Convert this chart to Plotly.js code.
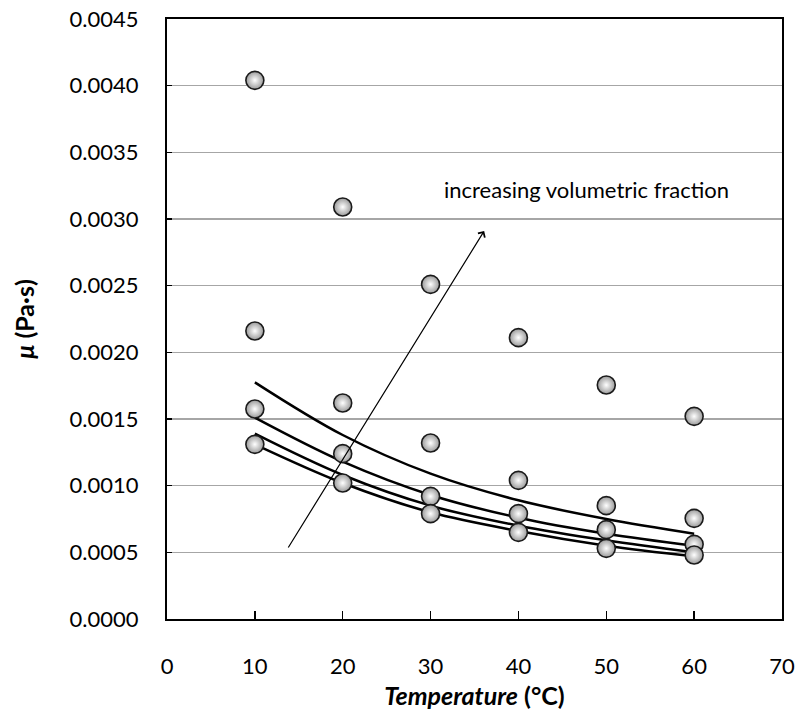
<!DOCTYPE html>
<html>
<head>
<meta charset="utf-8">
<script src="https://cdn.plot.ly/plotly-3.0.1.min.js"></script>
<style>
  html, body { margin: 0; padding: 0; background: #ffffff; }
  #chart { width: 798px; height: 727px; }
</style>
</head>
<body>
<div id="chart"></div>
<script>
// Temperature (°C)
var temperature = [10, 20, 30, 40, 50, 60];

// Measured viscosity (Pa·s), one series per volumetric fraction
var measured1 = [0.00404, 0.00309, 0.00251, 0.00211, 0.001755, 0.00152];
var measured2 = [0.00216, 0.00162, 0.00132, 0.00104, 0.00085, 0.000755];
var measured3 = [0.001575, 0.00124, 0.00092, 0.00079, 0.00067, 0.00056];
var measured4 = [0.00131, 0.00102, 0.00079, 0.00065, 0.00053, 0.00048];

// Model curves (Pa·s)
var model1 = [0.001775, 0.00138, 0.00109, 0.00089, 0.00075, 0.00064];
var model2 = [0.00151, 0.00118, 0.00093, 0.00076, 0.00064, 0.00055];
var model3 = [0.00139, 0.00108, 0.00085, 0.00070, 0.00059, 0.00050];
var model4 = [0.00131, 0.00102, 0.00080, 0.00066, 0.00055, 0.00047];

var xTicks = [0, 10, 20, 30, 40, 50, 60, 70];
var yTicks = [0, 0.0005, 0.001, 0.0015, 0.002, 0.0025, 0.003, 0.0035, 0.004, 0.0045];

var FONT = 'Lato, "Open Sans", "DejaVu Sans", sans-serif';

function curve(y) {
  return {
    x: temperature, y: y, type: 'scatter', mode: 'lines',
    line: { color: '#000000', width: 2.5, shape: 'spline', smoothing: 1 },
    hoverinfo: 'skip', showlegend: false
  };
}
// shaded "ball" markers: grey rim fading to a white centre
function dots(y) {
  return {
    x: temperature, y: y, type: 'scatter', mode: 'markers',
    marker: {
      symbol: 'circle', size: 18, color: '#9a9a9a',
      gradient: { type: 'radial', color: '#ffffff' },
      line: { color: '#1a1a1a', width: 1.6 }
    },
    showlegend: false
  };
}

var traces = [
  curve(model1), curve(model2), curve(model3), curve(model4),
  dots(measured1), dots(measured2), dots(measured3), dots(measured4)
];

var layout = {
  width: 798, height: 727,
  margin: { l: 167, r: 16, t: 19, b: 108 },
  paper_bgcolor: '#ffffff', plot_bgcolor: '#ffffff',
  font: { family: FONT, size: 22, color: '#000000' },
  showlegend: false,
  xaxis: {
    range: [0, 70], tickvals: xTicks, ticktext: xTicks.map(String),
    ticks: 'inside', ticklen: 8, tickwidth: 1.5, tickcolor: '#000000',
    showline: true, linecolor: '#000000', linewidth: 2, mirror: true,
    showgrid: false, zeroline: false, ticklabelstandoff: 27,
    tickfont: { family: FONT, size: 22 },
    title: { text: '<b><i>Temperature</i> (°C)</b>', font: { family: FONT, size: 25 }, standoff: 9 }
  },
  yaxis: {
    range: [0, 0.0045], tickvals: yTicks, ticktext: yTicks.map(function (v) { return v.toFixed(4); }),
    ticks: 'inside', ticklen: 5, tickwidth: 1.5, tickcolor: '#000000',
    showline: true, linecolor: '#000000', linewidth: 2, mirror: true,
    showgrid: true, gridcolor: '#a6a6a6', gridwidth: 1.3, zeroline: false,
    ticklabelstandoff: 22,
    tickfont: { family: FONT, size: 22 },
    title: { text: '<b><i>μ</i> (Pa·s)</b>', font: { family: FONT, size: 25 }, standoff: 28 }
  },
  annotations: [
    {
      x: 36.1, y: 0.00291, ax: 13.7, ay: 0.000525,
      xref: 'x', yref: 'y', axref: 'x', ayref: 'y',
      text: '', showarrow: true, arrowhead: 4, arrowsize: 1.3, arrowwidth: 1.2, arrowcolor: '#000000'
    },
    {
      x: 47.7, y: 0.00322, xref: 'x', yref: 'y', showarrow: false,
      text: 'increasing volumetric fraction',
      font: { family: FONT, size: 22, color: '#000000' }
    }
  ]
};

Plotly.newPlot('chart', traces, layout, { staticPlot: true, displayModeBar: false });
</script>
</body>
</html>
